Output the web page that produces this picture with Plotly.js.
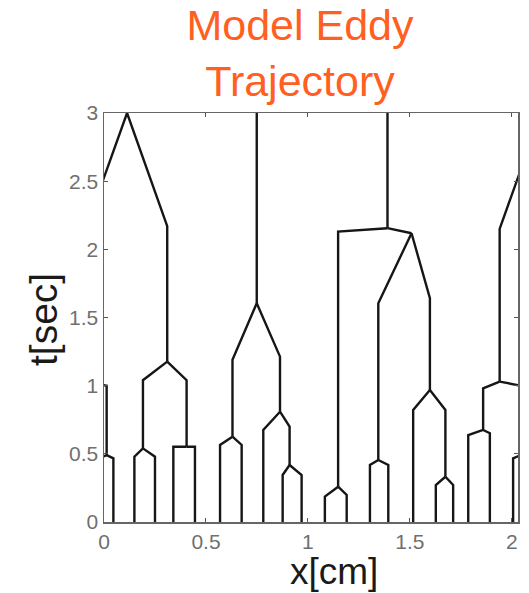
<!DOCTYPE html>
<html>
<head>
<meta charset="utf-8">
<script src="https://cdn.plot.ly/plotly-3.0.1.min.js"></script>
<style>
  html, body { margin: 0; padding: 0; background: #fff; }
  #chart { width: 529px; height: 593px; }
</style>
</head>
<body>
<div id="chart"></div>
<script>
// Periodic domain length in x (cm); eddies leaving one side re-enter on the other.
const domainLength = 2.03;

// Each eddy: horizontal position x [cm], time it joins its parent (top) and
// time it splits into children or reaches t = 0 (bottom), and its parent index.
// Positions are unwrapped, so a few sit just outside [0, domainLength].
const eddyX = [
  0.113, 0.31, -0.09, 0.191, 0.405, 0.149, 0.25, 0.34, 0.446,
  -0.171, 0.013, -0.244, -0.138, 0.046, -0.024,
  0.749, 0.63, 0.863, 0.569, 0.675, 0.781, 0.91, 0.876, 0.969,
  1.39, 1.148, 1.508, 1.083, 1.19, 1.345, 1.598, 1.304, 1.394, 1.516, 1.674, 1.627, 1.712
];
const eddyTop = [
  3.3, 2.17, 2.15, 1.04, 1.04, 0.479, 0.479, 0.552, 0.552,
  0.98, 1.0, 0.638, 0.651, 0.467, 0.467,
  3.3, 1.19, 1.213, 0.565, 0.565, 0.675, 0.70, 0.345, 0.345,
  3.3, 2.13, 2.118, 0.186, 0.198, 1.605, 1.641, 0.418, 0.418, 0.822, 0.822, 0.271, 0.271
];
const eddyBottom = [
  3.0, 1.176, 1.03, 0.54, 0.552, 0, 0, 0, 0,
  0.675, 0.49, 0, 0, 0, 0,
  1.605, 0.626, 0.809, 0, 0, 0, 0.418, 0, 0,
  2.155, 0.259, 2.118, 0, 0, 0.455, 0.968, 0, 0, 0, 0.332, 0, 0
];
const eddyParent = [
  -1, 0, 0, 1, 1, 3, 3, 4, 4,
  2, 2, 9, 9, 10, 10,
  -1, 15, 15, 16, 16, 17, 17, 21, 21,
  -1, 24, 24, 25, 25, 26, 26, 29, 29, 30, 30, 34, 34
];

const xTicks = [0, 0.5, 1, 1.5, 2];
const xTickText = ['0', '0.5', '1', '1.5', '2'];
const tTicks = [0, 0.5, 1, 1.5, 2, 2.5, 3];
const tTickText = ['0', '0.5', '1', '1.5', '2', '2.5', '3'];

// Build the branch polylines: from the parent's split point to the eddy's
// top, then straight down to where the eddy itself splits (or t = 0).
const xs = [], ts = [];
const shifts = [-domainLength, 0, domainLength];
for (const s of shifts) {
  for (let i = 0; i < eddyX.length; i++) {
    const p = eddyParent[i];
    if (p >= 0) {
      xs.push(eddyX[p] + s);
      ts.push(eddyBottom[p]);
    }
    xs.push(eddyX[i] + s, eddyX[i] + s);
    ts.push(eddyTop[i], eddyBottom[i]);
    xs.push(null);
    ts.push(null);
  }
}

const trace = {
  type: 'scatter',
  mode: 'lines',
  x: xs,
  y: ts,
  connectgaps: false,
  line: { color: '#161616', width: 2.4 },
  hoverinfo: 'skip',
  showlegend: false
};

const tickFont = { family: 'Liberation Sans, Arial, sans-serif', size: 21, color: '#707070' };

const layout = {
  width: 529,
  height: 593,
  margin: { l: 104, r: 11, t: 113, b: 71, pad: 0 },
  paper_bgcolor: '#ffffff',
  plot_bgcolor: '#ffffff',
  showlegend: false,
  title: {
    text: 'Model Eddy<br>Trajectory',
    font: { family: 'Liberation Sans, Arial, sans-serif', size: 43, color: '#FF5F1F' },
    x: 300 / 529,
    xanchor: 'center',
    xref: 'container',
    yref: 'container',
    y: 0.932,
    yanchor: 'top'
  },
  xaxis: {
    range: [0, domainLength],
    tickmode: 'array',
    tickvals: xTicks,
    ticktext: xTickText,
    ticks: 'inside',
    ticklen: 4,
    tickcolor: '#555',
    mirror: 'ticks',
    showline: true,
    linecolor: '#666',
    linewidth: 1.5,
    showgrid: false,
    zeroline: false,
    tickfont: tickFont
  },
  yaxis: {
    range: [0, 3],
    tickmode: 'array',
    tickvals: tTicks,
    ticktext: tTickText,
    ticks: 'inside',
    ticklen: 4,
    tickcolor: '#555',
    mirror: 'ticks',
    showline: true,
    linecolor: '#666',
    linewidth: 1.5,
    showgrid: false,
    zeroline: false,
    tickfont: tickFont
  },
  annotations: [
    {
      text: 'x[cm]',
      xref: 'paper', yref: 'paper',
      x: (334 - 104) / 414, y: (522 - 571) / 409,
      xanchor: 'center', yanchor: 'middle',
      showarrow: false,
      font: { family: 'Liberation Sans, Arial, sans-serif', size: 37, color: '#1a1a1a' }
    },
    {
      text: 't[sec]',
      xref: 'paper', yref: 'paper',
      x: (43 - 104) / 414, y: (522 - 320) / 409,
      xanchor: 'center', yanchor: 'middle',
      textangle: -90,
      showarrow: false,
      font: { family: 'Liberation Sans, Arial, sans-serif', size: 39, color: '#1a1a1a' }
    }
  ]
};

Plotly.newPlot('chart', [trace], layout, { staticPlot: true, displayModeBar: false });
</script>
</body>
</html>
